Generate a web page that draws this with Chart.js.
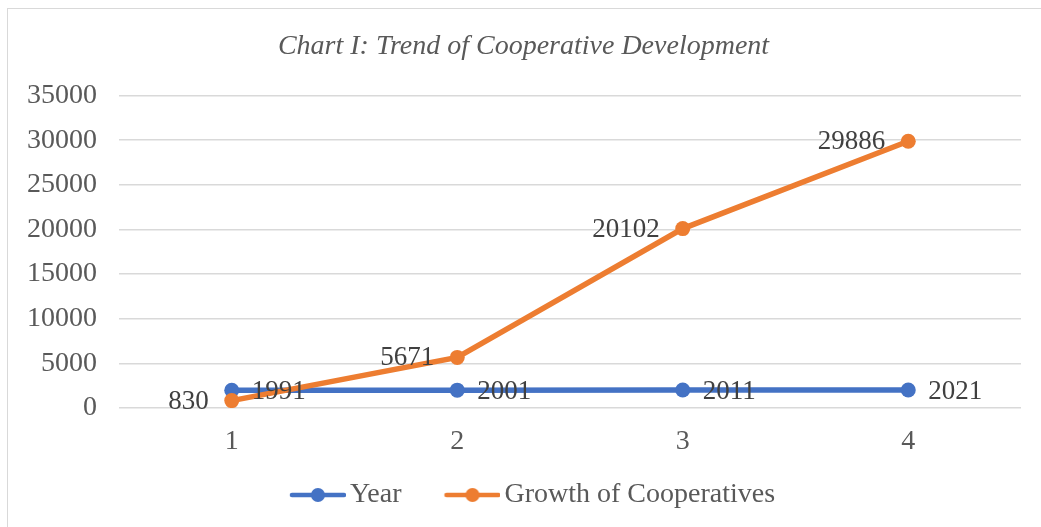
<!DOCTYPE html>
<html>
<head>
<meta charset="utf-8">
<script src="https://cdn.jsdelivr.net/npm/chart.js@4.4.1/dist/chart.umd.min.js"></script>
<style>
  html, body { margin: 0; padding: 0; background: #ffffff; }
  #wrap { position: relative; width: 1041px; height: 527px; overflow: hidden; }
  #frame { position: absolute; left: 7px; top: 8px; width: 1040px; height: 540px; border: 1px solid #d9d9d9; box-sizing: border-box; }
  #c { position: absolute; left: 0; top: 0; }
</style>
</head>
<body>
<div id="wrap">
  <div id="frame"></div>
  <canvas id="c" width="1041" height="527"></canvas>
</div>
<script>
const categories = ['1', '2', '3', '4'];
const yearValues = [1991, 2001, 2011, 2021];
const growthValues = [830, 5671, 20102, 29886];
const seriesNames = ['Year', 'Growth of Cooperatives'];
const chartTitle = 'Chart I: Trend of Cooperative Development';

const BLUE = '#4472C4';
const ORANGE = '#ED7D31';
const FONT = "'Liberation Serif', 'Times New Roman', serif";

// legend marker: transparent left part, line + dot on the right part
function legendMarker(color) {
  const cv = document.createElement('canvas');
  cv.width = 84; cv.height = 16;
  const ctx = cv.getContext('2d');
  const off = 28;
  ctx.strokeStyle = color;
  ctx.lineWidth = 4.5;
  ctx.lineCap = 'round';
  ctx.beginPath(); ctx.moveTo(off + 2, 8); ctx.lineTo(off + 54, 8); ctx.stroke();
  ctx.fillStyle = color;
  ctx.beginPath(); ctx.arc(off + 28, 8, 7, 0, Math.PI * 2); ctx.fill();
  return cv;
}
const markers = [legendMarker(BLUE), legendMarker(ORANGE)];

const dataLabels = {
  id: 'dataLabels',
  afterDatasetsDraw(chart) {
    const ctx = chart.ctx;
    ctx.save();
    ctx.font = '27px ' + FONT;
    ctx.fillStyle = '#404040';
    ctx.textBaseline = 'middle';
    chart.data.datasets.forEach((ds, di) => {
      const meta = chart.getDatasetMeta(di);
      meta.data.forEach((pt, i) => {
        const v = ds.data[i];
        if (di === 0) {
          ctx.textAlign = 'left';
          ctx.fillText(String(v), pt.x + 20, pt.y + 2);
        } else {
          ctx.textAlign = 'right';
          ctx.fillText(String(v), pt.x - 23, pt.y + 1);
        }
      });
    });
    ctx.restore();
  }
};

new Chart(document.getElementById('c'), {
  type: 'line',
  data: {
    labels: categories,
    datasets: [
      {
        label: seriesNames[0], data: yearValues,
        borderColor: BLUE, backgroundColor: BLUE,
        borderWidth: 5.5, pointRadius: 7.5, pointBorderWidth: 0,
        pointBackgroundColor: BLUE, tension: 0, order: 2
      },
      {
        label: seriesNames[1], data: growthValues,
        borderColor: ORANGE, backgroundColor: ORANGE,
        borderWidth: 5.5, pointRadius: 7.5, pointBorderWidth: 0,
        pointBackgroundColor: ORANGE, tension: 0, order: 1
      }
    ]
  },
  options: {
    responsive: false,
    animation: false,
    devicePixelRatio: 1,
    layout: { padding: { left: 26, right: 20, top: 0, bottom: 8 } },
    plugins: {
      title: {
        display: true, text: chartTitle, color: '#595959',
        font: { family: FONT, size: 28, style: 'italic', weight: 'normal', lineHeight: 1.2 },
        padding: { top: 30, bottom: 32 }
      },
      legend: {
        display: true, position: 'bottom',
        labels: {
          usePointStyle: true, pointStyleWidth: 64, padding: 25,
          color: '#595959',
          font: { family: FONT, size: 28 },
          generateLabels(chart) {
            return chart.data.datasets.map((ds, i) => ({
              text: ds.label, pointStyle: markers[i], datasetIndex: i,
              fillStyle: ds.borderColor, strokeStyle: ds.borderColor,
              lineWidth: 0, hidden: false, fontColor: '#595959'
            }));
          }
        }
      },
      tooltip: { enabled: false }
    },
    scales: {
      x: {
        offset: true,
        grid: { display: false, drawTicks: false },
        border: { display: false },
        ticks: { color: '#595959', padding: 20, font: { family: FONT, size: 28, lineHeight: 1 } },
        afterFit(scale) { scale.height = 48; }
      },
      y: {
        min: 0, max: 35000,
        grid: { color: '#d9d9d9', lineWidth: 1.5, drawTicks: false },
        border: { display: false },
        ticks: {
          stepSize: 5000, color: '#595959', padding: 22,
          font: { family: FONT, size: 28 },
          callback: (v) => String(v)
        },
        afterFit(scale) { scale.width = 93; }
      }
    }
  },
  plugins: [dataLabels]
});
</script>
</body>
</html>
